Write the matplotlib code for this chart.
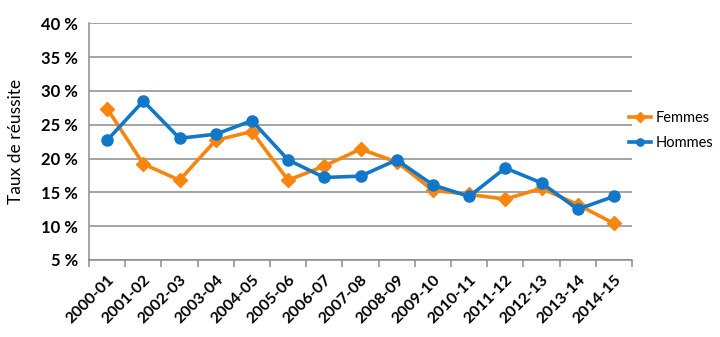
import matplotlib
matplotlib.use("Agg")
import matplotlib.pyplot as plt
from matplotlib.ticker import FixedLocator, FuncFormatter

categories = ["2000-01", "2001-02", "2002-03", "2003-04", "2004-05", "2005-06", "2006-07",
              "2007-08", "2008-09", "2009-10", "2010-11", "2011-12", "2012-13", "2013-14", "2014-15"]
femmes = [27.4, 19.2, 16.8, 22.7, 24.0, 16.8, 18.9, 21.4, 19.5, 15.3, 14.7, 14.0, 15.6, 13.2, 10.4]
hommes = [22.7, 28.5, 23.0, 23.6, 25.6, 19.8, 17.2, 17.4, 19.8, 16.1, 14.4, 18.6, 16.4, 12.5, 14.4]
yticks = [5, 10, 15, 20, 25, 30, 35, 40]

plt.rcParams['font.family'] = ['Lato', 'DejaVu Sans']

fig = plt.figure(figsize=(7.2, 3.37), dpi=100)
ax = fig.add_axes([89/720, 1-260/337, (632-89)/720, (260-23.3)/337])

x = list(range(len(categories)))
ax.plot(x, femmes, color="#F7850F", lw=2.6, marker="D", ms=7.5, label="Femmes", zorder=3)
ax.plot(x, hommes, color="#1177C8", lw=2.6, marker="o", ms=8, label="Hommes", zorder=4)

ax.set_xlim(-0.5, len(categories) - 0.5)
ax.set_ylim(5, 40)
ax.yaxis.set_major_locator(FixedLocator(yticks))
ax.yaxis.set_major_formatter(FuncFormatter(lambda v, p: f"{int(v)} %"))
ax.grid(axis="y", color="#8c8c8c", lw=1.1)
ax.set_axisbelow(True)

ax.set_xticks(x)
ax.set_xticklabels(categories, rotation=45, ha="right", rotation_mode="anchor",
                   fontsize=11.5, fontweight="bold")
ax.tick_params(axis="x", length=0, pad=9)
ax.set_xticks([i - 0.5 for i in range(len(categories) + 1)], minor=True)
ax.tick_params(axis="x", which="minor", length=5, color="#8c8c8c", width=1.1)
ax.tick_params(axis="y", length=0, labelsize=12, pad=8)
for lbl in ax.get_yticklabels():
    lbl.set_fontweight("bold")

for s in ["top", "right"]:
    ax.spines[s].set_visible(False)
for s in ["left", "bottom"]:
    ax.spines[s].set_color("#8c8c8c")
    ax.spines[s].set_linewidth(1.1)

ax.set_ylabel("Taux de réussite", fontsize=12.5, labelpad=12)

ax.legend(loc="center left", bbox_to_anchor=(629/720, 1-130.5/337), bbox_transform=fig.transFigure,
          frameon=False, fontsize=10.5, borderaxespad=0, borderpad=0,
          handlelength=1.5, handletextpad=0.3, labelspacing=0.75, markerscale=0.65)

fig.savefig("out.png", dpi=100)
